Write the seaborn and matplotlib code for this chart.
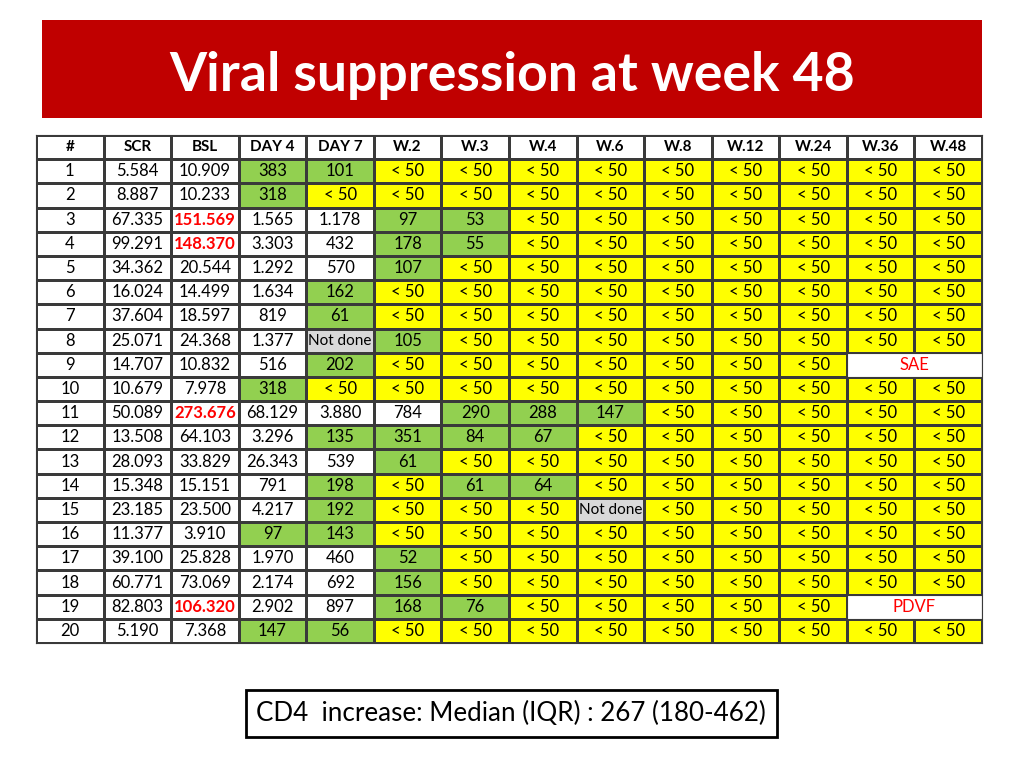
import numpy as np
import pandas as pd
import matplotlib
matplotlib.use("Agg")
import matplotlib.pyplot as plt
import seaborn as sns
from matplotlib.colors import ListedColormap
from matplotlib.patches import Rectangle

columns = ["#", "SCR", "BSL", "DAY 4", "DAY 7", "W.2", "W.3", "W.4", "W.6",
           "W.8", "W.12", "W.24", "W.36", "W.48"]
patient = [str(i) for i in range(1, 21)]
scr = ["5.584", "8.887", "67.335", "99.291", "34.362", "16.024", "37.604", "25.071",
       "14.707", "10.679", "50.089", "13.508", "28.093", "15.348", "23.185", "11.377",
       "39.100", "60.771", "82.803", "5.190"]
bsl = ["10.909", "10.233", "151.569", "148.370", "20.544", "14.499", "18.597", "24.368",
       "10.832", "7.978", "273.676", "64.103", "33.829", "15.151", "23.500", "3.910",
       "25.828", "73.069", "106.320", "7.368"]
day4 = ["383", "318", "1.565", "3.303", "1.292", "1.634", "819", "1.377", "516", "318",
        "68.129", "3.296", "26.343", "791", "4.217", "97", "1.970", "2.174", "2.902", "147"]
day7 = ["101", "< 50", "1.178", "432", "570", "162", "61", "Not done", "202", "< 50",
        "3.880", "135", "539", "198", "192", "143", "460", "692", "897", "56"]
L = "< 50"
w2 = [L, L, "97", "178", "107", L, L, "105", L, L, "784", "351", "61", L, L, L, "52",
      "156", "168", L]
w3 = [L, L, "53", "55", L, L, L, L, L, L, "290", "84", L, "61", L, L, L, L, "76", L]
w4 = [L] * 10 + ["288", "67", L, "64"] + [L] * 6
w6 = [L] * 10 + ["147", L, L, L, "Not done"] + [L] * 5
w8 = [L] * 20
w12 = [L] * 20
w24 = [L] * 20
w36 = [L] * 8 + ["SAE"] + [L] * 9 + ["PDVF", L]
w48 = [L] * 8 + ["SAE"] + [L] * 9 + ["PDVF", L]

df = pd.DataFrame(dict(zip(columns, [patient, scr, bsl, day4, day7, w2, w3, w4, w6,
                                     w8, w12, w24, w36, w48])))
notes = ["SAE", "PDVF"]


def to_num(s):
    return float(s.replace(".", ""))


def cell_code(col, s):
    # 0 white, 1 green, 2 yellow, 3 grey
    if col in ("#", "SCR", "BSL") or s in notes:
        return 0
    if s == L:
        return 2
    if s == "Not done":
        return 3
    return 1 if to_num(s) <= 400 else 0


codes = np.zeros((len(df) + 1, len(columns)), dtype=int)
for i in range(len(df)):
    for j, c in enumerate(columns):
        codes[i + 1, j] = cell_code(c, df.iloc[i, j])

cmap = ListedColormap(["#FFFFFF", "#92D050", "#FFFF00", "#D9D9D9"])
font = "Lato"
line_col = "#3A3A3A"
fs = 12

fig = plt.figure(figsize=(10.24, 7.68), dpi=100)
fig.patch.set_facecolor("white")

# title banner
fig.patches.append(Rectangle((42 / 1024, 1 - 118 / 768), 940 / 1024, 98 / 768,
                             transform=fig.transFigure, facecolor="#C00000",
                             edgecolor="none"))
fig.text(512 / 1024, 1 - 75 / 768, "Viral suppression at week 48", color="white",
         fontsize=38.5, fontweight="bold", family=font, ha="center", va="center")

ax = fig.add_axes([36 / 1024, 1 - 643 / 768, 946 / 1024, 508 / 768])
sns.heatmap(codes, cmap=cmap, vmin=-0.5, vmax=3.5, cbar=False, linewidths=0.8,
            linecolor=line_col, xticklabels=False, yticklabels=False, ax=ax)
for sp in ax.spines.values():
    sp.set_visible(True)
    sp.set_color(line_col)
    sp.set_linewidth(0.8)

for j, c in enumerate(columns):
    ax.text(j + 0.5, 0.5, c, ha="center", va="center", fontsize=11,
            fontweight="bold", family=font)

for i in range(len(df)):
    r = i + 1
    for j, c in enumerate(columns):
        s = df.iloc[i, j]
        if s in notes:
            if c == "W.36":
                ax.add_patch(Rectangle((j, r), 2, 1, facecolor="white",
                                       edgecolor=line_col, linewidth=0.8))
                ax.text(j + 1, r + 0.5, s, ha="center", va="center", fontsize=fs,
                        color="#FF0000", family=font)
            continue
        red = c == "BSL" and to_num(s) > 100000
        ax.text(j + 0.5, r + 0.5, s, ha="center", va="center",
                fontsize=11 if s == "Not done" else fs,
                family=font, color="#FF0000" if red else "black",
                fontweight="bold" if red else "normal")

# CD4 box
fig.patches.append(Rectangle((246 / 1024, 1 - 737 / 768), 531 / 1024, 47 / 768,
                             transform=fig.transFigure, facecolor="white",
                             edgecolor="black", linewidth=2))
fig.text(511 / 1024, 1 - 713 / 768, "CD4  increase: Median (IQR) : 267 (180-462)",
         fontsize=18.7, family=font, ha="center", va="center")

fig.savefig("out.png", dpi=100)
